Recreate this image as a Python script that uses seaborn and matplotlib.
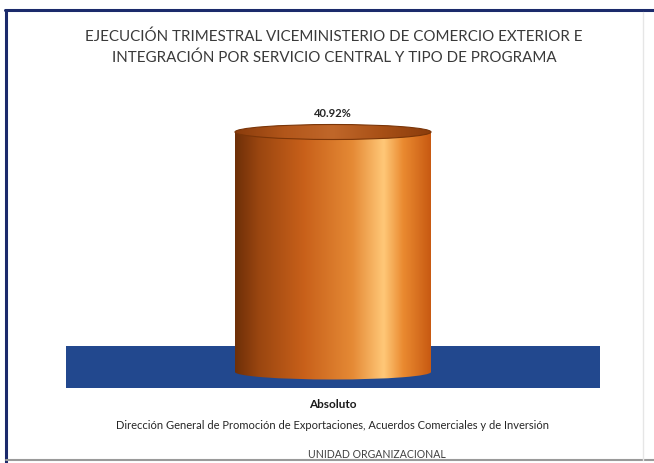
import numpy as np
import pandas as pd
import matplotlib
matplotlib.use("Agg")
import matplotlib.pyplot as plt
from matplotlib.patches import Ellipse, Rectangle
from matplotlib.colors import LinearSegmentedColormap
from matplotlib.lines import Line2D
import seaborn as sns

# ---- data ----
categories = ["Dirección General de Promoción de Exportaciones, Acuerdos Comerciales y de Inversión"]
series_name = "Absoluto"
values = [40.92]
title_lines = ["EJECUCIÓN TRIMESTRAL VICEMINISTERIO DE COMERCIO EXTERIOR E",
               "INTEGRACIÓN POR SERVICIO CENTRAL Y TIPO DE PROGRAMA"]
x_title = "UNIDAD ORGANIZACIONAL"

sns.set_theme(style="white")
plt.rcParams['font.family'] = ['Lato', 'DejaVu Sans']

W, H = 654, 463
fig = plt.figure(figsize=(W / 100, H / 100), dpi=100)
fig.patch.set_facecolor("white")

# axes in pixel coords
ax_l, ax_r = 66, 600
ax_top, ax_bot = 100, 388
ax = fig.add_axes([ax_l / W, 1 - ax_bot / H, (ax_r - ax_l) / W, (ax_bot - ax_top) / H])

px_per_unit = (372 - 132) / values[0]
ymin = -(ax_bot - 372) / px_per_unit
ymax = (372 - ax_top) / px_per_unit

df = pd.DataFrame({"cat": categories, "val": values})
bw = 196 / (ax_r - ax_l)
sns.barplot(data=df, x="cat", y="val", ax=ax, width=bw, color="#D2691E", zorder=3)
ax.set_xlim(-0.5, 0.5)
ax.set_ylim(ymin, ymax)

# floor
floor_top = (372 - 346) / px_per_unit
ax.add_patch(Rectangle((-0.5, ymin), 1, floor_top - ymin, facecolor="#22488e",
                       edgecolor="none", zorder=1))

# cylinder styling
cyl = LinearSegmentedColormap.from_list("copper3d", [
    (0.0, "#6e2f08"), (0.12, "#9a4610"), (0.35, "#c8601a"), (0.6, "#e58a35"),
    (0.76, "#ffc878"), (0.86, "#ea8a30"), (1.0, "#c85a12")])
grad = np.linspace(0, 1, 256).reshape(1, -1)
eh = 15 / px_per_unit
for p in ax.patches:
    if not hasattr(p, "get_height") or p.get_zorder() != 3:
        continue
    x0, w, h = p.get_x(), p.get_width(), p.get_height()
    if h < 1:
        continue
    p.set_facecolor("none")
    p.set_edgecolor("none")
    cx = x0 + w / 2
    # body
    body = Rectangle((x0, 0), w, h, transform=ax.transData)
    im = ax.imshow(grad, cmap=cyl, aspect="auto", extent=(x0, x0 + w, -eh, h),
                   zorder=3, interpolation="bicubic")
    im.set_clip_path(body)
    bot = Ellipse((cx, 0), w, eh, transform=ax.transData)
    im2 = ax.imshow(grad, cmap=cyl, aspect="auto", extent=(x0, x0 + w, -eh, h),
                    zorder=3, interpolation="bicubic")
    im2.set_clip_path(bot)
    # top
    topc = LinearSegmentedColormap.from_list("top", ["#8a3c0c", "#b2561a", "#c0672a", "#a85016", "#8a3c0c"])
    top = Ellipse((cx, h), w, eh, transform=ax.transData)
    im3 = ax.imshow(grad, cmap=topc, aspect="auto", extent=(x0, x0 + w, h - eh, h + eh),
                    zorder=4, interpolation="bicubic")
    im3.set_clip_path(top)
    ax.add_patch(Ellipse((cx, h), w, eh, facecolor="none", edgecolor="#7a3508",
                         lw=0.8, zorder=5))
    ax.text(cx, h + eh / 2 + 1.0, f"{values[0]:.2f}%", ha="center", va="bottom",
            fontsize=8, fontweight="bold", color="#262626")

ax.set_xticks([0])
ax.set_xticklabels(categories, fontsize=8.0, color="#262626")
ax.set_yticks([])
ax.set_xlabel("")
ax.set_ylabel("")
for s in ax.spines.values():
    s.set_visible(False)
ax.tick_params(axis="x", length=0, pad=23)

fig.text(333 / W, 1 - 404 / H, series_name, ha="center", va="center",
         fontsize=8.5, fontweight="bold", color="#1a1a1a")
fig.text(377 / W, 1 - 455 / H, x_title, ha="center", va="center",
         fontsize=7.6, color="#404040")

fig.text(334 / W, 1 - 37 / H, title_lines[0], ha="center", va="center",
         fontsize=10.9, color="#3a3a3a")
fig.text(334 / W, 1 - 58 / H, title_lines[1], ha="center", va="center",
         fontsize=10.9, color="#3a3a3a")

# frame lines
fig.add_artist(Line2D([5 / W, 1], [1 - 10 / H, 1 - 10 / H], color="#1b2a6b", lw=2.2))
fig.add_artist(Line2D([6 / W, 6 / W], [1 - 10 / H, 0], color="#1b2a6b", lw=2.2))
fig.add_artist(Line2D([6 / W, 1], [1 - 460 / H, 1 - 460 / H], color="#9a9a9a", lw=1.5))
fig.add_artist(Line2D([643 / W, 643 / W], [1 - 12 / H, 1 - 460 / H], color="#e6e6e6", lw=1))

fig.savefig("out.png", dpi=100)
